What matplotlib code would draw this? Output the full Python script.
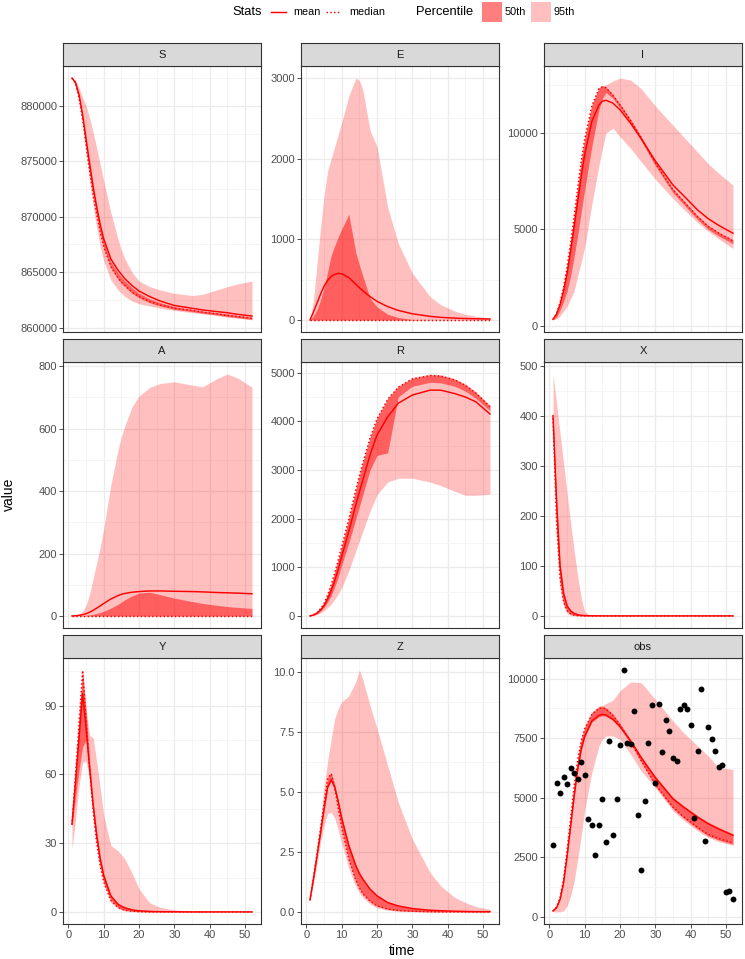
import matplotlib
matplotlib.use('Agg')
import matplotlib.pyplot as plt
from matplotlib.lines import Line2D
from matplotlib.patches import Rectangle

plt.rcParams['font.family'] = ['Liberation Sans', 'DejaVu Sans']

# time points
time = [1, 2, 3, 4, 5, 6, 7, 8, 9, 10, 12, 14, 15, 16, 18, 20, 23, 26, 30, 35, 38, 42, 45, 48, 52]

S_mean = [882500, 882100, 881000, 879200, 877000, 874800, 872700, 870900, 869300, 868000, 866200, 865200, 864800,
          864400, 863800, 863300, 862800, 862400, 862000, 861750, 861600, 861450, 861350, 861200, 861050]
S_median = [882500, 882000, 880700, 878800, 876400, 874100, 872000, 870200, 868600, 867300, 865500, 864500, 864100,
            863800, 863200, 862800, 862350, 862050, 861750, 861550, 861400, 861250, 861100, 861000, 860850]
S_lo50 = [882500, 881900, 880600, 878700, 876300, 874000, 871900, 870100, 868500, 867200, 865400, 864400, 864000,
          863700, 863100, 862700, 862250, 861950, 861650, 861450, 861300, 861150, 861000, 860900, 860750]
S_hi50 = [882500, 882050, 880900, 879050, 876800, 874550, 872450, 870650, 869050, 867750, 865950, 864950, 864550,
          864200, 863600, 863100, 862600, 862250, 861900, 861650, 861500, 861350, 861250, 861100, 860950]
S_lo95 = [882500, 881900, 880500, 878400, 875800, 873200, 871000, 869000, 867300, 866000, 864300, 863400, 863100,
          862800, 862400, 862150, 861950, 861750, 861550, 861350, 861250, 861100, 860950, 860850, 860700]
S_hi95 = [882500, 882300, 881600, 880800, 880000, 878900, 877600, 876200, 874700, 873200, 870400, 868000, 867000,
          866200, 865000, 864200, 863700, 863400, 863100, 862900, 863000, 863400, 863700, 863950, 864200]

E_mean = [0, 100, 210, 320, 420, 490, 540, 565, 578, 572, 525, 440, 400, 360, 290, 230, 165, 118, 76, 44, 32, 22, 17, 14, 12]
E_median = [0, 0, 0, 0, 0, 0, 0, 0, 0, 0, 0, 0, 0, 0, 0, 0, 0, 0, 0, 0, 0, 0, 0, 0, 0]
E_lo50 = [0, 0, 0, 0, 0, 0, 0, 0, 0, 0, 0, 0, 0, 0, 0, 0, 0, 0, 0, 0, 0, 0, 0, 0, 0]
E_hi50 = [0, 50, 130, 250, 400, 600, 800, 920, 1030, 1130, 1310, 830, 680, 540, 270, 160, 70, 30, 5, 0, 0, 0, 0, 0, 0]
E_lo95 = [0, 0, 0, 0, 0, 0, 0, 0, 0, 0, 0, 0, 0, 0, 0, 0, 0, 0, 0, 0, 0, 0, 0, 0, 0]
E_hi95 = [0, 250, 700, 1150, 1550, 1850, 2000, 2150, 2300, 2450, 2780, 3000, 2970, 2850, 2350, 2150, 1400, 950, 580,
          290, 190, 110, 70, 45, 20]

I_mean = [330, 600, 1100, 1800, 2700, 3900, 5150, 6450, 7750, 8900, 10600, 11450, 11650, 11700, 11550, 11200, 10500,
          9700, 8550, 7300, 6750, 6000, 5550, 5200, 4800]
I_median = [330, 620, 1200, 2000, 3050, 4300, 5700, 7150, 8550, 9700, 11400, 12300, 12400, 12350, 11950, 11450, 10650,
            9750, 8450, 7050, 6450, 5650, 5150, 4800, 4400]
I_lo50 = [300, 450, 800, 1250, 1800, 2600, 3600, 4700, 5900, 7100, 9300, 11200, 11800, 12100, 11800, 11300, 10500,
          9600, 8300, 6900, 6300, 5500, 5000, 4650, 4250]
I_hi50 = [340, 640, 1230, 2050, 3100, 4350, 5750, 7200, 8600, 9750, 11450, 12350, 12450, 12400, 12000, 11500, 10700,
          9800, 8500, 7100, 6500, 5700, 5200, 4850, 4450]
I_lo95 = [300, 350, 500, 750, 1000, 1400, 1800, 2600, 3300, 4100, 6300, 8300, 9200, 10000, 10250, 9800, 9200, 8500,
          7600, 6600, 6050, 5350, 4900, 4500, 4000]
I_hi95 = [340, 650, 1250, 2100, 3150, 4400, 5800, 7250, 8650, 9750, 11450, 12350, 12450, 12500, 12700, 12850, 12750,
          12300, 11400, 10400, 9800, 9000, 8400, 7900, 7300]

A_mean = [0, 0.5, 2, 4, 7, 12, 18, 25, 32, 40, 54, 65, 69, 72, 76, 78, 80, 80, 79, 78, 77, 75, 74, 73, 71]
A_median = [0, 0, 0, 0, 0, 0, 0, 0, 0, 0, 0, 0, 0, 0, 0, 0, 0, 0, 0, 0, 0, 0, 0, 0, 0]
A_lo50 = [0, 0, 0, 0, 0, 0, 0, 0, 0, 0, 0, 0, 0, 0, 0, 0, 0, 0, 0, 0, 0, 0, 0, 0, 0]
A_hi50 = [0, 0, 0.5, 1, 2, 3, 5, 8, 11, 15, 25, 37, 44, 52, 64, 73, 76, 68, 57, 46, 40, 34, 30, 27, 24]
A_lo95 = [0, 0, 0, 0, 0, 0, 0, 0, 0, 0, 0, 0, 0, 0, 0, 0, 0, 0, 0, 0, 0, 0, 0, 0, 0]
A_hi95 = [0, 0, 5, 15, 35, 70, 120, 170, 220, 280, 420, 530, 575, 610, 670, 705, 732, 745, 750, 740, 734, 760, 775,
          762, 733]

R_mean = [0, 20, 55, 120, 210, 350, 520, 720, 960, 1230, 1740, 2290, 2550, 2800, 3310, 3720, 4090, 4370, 4540, 4640,
          4640, 4570, 4500, 4400, 4150]
R_median = [0, 25, 70, 150, 260, 430, 640, 880, 1150, 1430, 1990, 2600, 2880, 3150, 3650, 4050, 4450, 4700, 4870, 4940,
            4930, 4850, 4740, 4580, 4300]
R_lo50 = [0, 15, 45, 100, 180, 290, 420, 600, 800, 1050, 1500, 2000, 2250, 2500, 3000, 3300, 3350, 4500, 4720, 4800,
          4790, 4720, 4620, 4470, 4220]
R_hi50 = [0, 30, 80, 160, 270, 440, 650, 890, 1160, 1440, 2000, 2610, 2890, 3160, 3660, 4060, 4460, 4710, 4880, 4950,
          4940, 4860, 4750, 4590, 4310]
R_lo95 = [0, 8, 25, 60, 110, 170, 245, 340, 450, 585, 925, 1335, 1540, 1745, 2150, 2490, 2750, 2830, 2830, 2750, 2680,
          2560, 2480, 2480, 2500]
R_hi95 = [0, 40, 95, 180, 290, 460, 670, 910, 1180, 1460, 2020, 2630, 2910, 3180, 3680, 4080, 4480, 4730, 4900, 4970,
          4960, 4880, 4770, 4610, 4330]

X_mean = [400, 230, 100, 45, 20, 10, 5, 2.5, 1.2, 0.6, 0.2, 0.1, 0, 0, 0, 0, 0, 0, 0, 0, 0, 0, 0, 0, 0]
X_median = [395, 190, 75, 28, 10, 4, 1.5, 0.5, 0.2, 0.1, 0, 0, 0, 0, 0, 0, 0, 0, 0, 0, 0, 0, 0, 0, 0]
X_lo50 = [390, 180, 70, 25, 9, 3.5, 1.2, 0.4, 0.1, 0, 0, 0, 0, 0, 0, 0, 0, 0, 0, 0, 0, 0, 0, 0, 0]
X_hi50 = [402, 235, 102, 47, 22, 11, 5.5, 2.7, 1.3, 0.7, 0.2, 0.1, 0, 0, 0, 0, 0, 0, 0, 0, 0, 0, 0, 0, 0]
X_lo95 = [380, 160, 55, 18, 5, 1, 0.3, 0.1, 0, 0, 0, 0, 0, 0, 0, 0, 0, 0, 0, 0, 0, 0, 0, 0, 0]
X_hi95 = [483, 425, 365, 305, 245, 185, 130, 80, 35, 8, 0.5, 0.1, 0, 0, 0, 0, 0, 0, 0, 0, 0, 0, 0, 0, 0]

Y_mean = [38.4, 57, 76, 95.4, 80, 62.5, 46.5, 33.3, 23, 15.8, 7, 3.4, 2.5, 1.8, 0.9, 0.5, 0.2, 0.1, 0.05, 0, 0, 0, 0, 0, 0]
Y_median = [38, 60, 82, 105.3, 83, 62, 44, 30, 20, 13, 5, 2, 1.2, 0.7, 0.3, 0.1, 0, 0, 0, 0, 0, 0, 0, 0, 0]
Y_lo50 = [37, 50, 62, 72, 75, 60, 44, 30, 20, 13, 5, 2, 1.2, 0.7, 0.3, 0.1, 0, 0, 0, 0, 0, 0, 0, 0, 0]
Y_hi50 = [40, 62, 85, 105.5, 88, 66, 48, 35, 24, 16.5, 7.3, 3.6, 2.6, 1.9, 1, 0.5, 0.2, 0.1, 0.05, 0, 0, 0, 0, 0, 0]
Y_lo95 = [27.5, 40, 55, 65, 66, 58, 42, 29, 19, 12, 4, 1.5, 1, 0.5, 0.2, 0, 0, 0, 0, 0, 0, 0, 0, 0, 0]
Y_hi95 = [40, 62, 86, 105.5, 88, 77, 76, 65.5, 54, 42, 29, 26.7, 25, 23, 17, 10, 4, 2, 0.9, 0.3, 0.15, 0.05, 0, 0, 0]

Z_mean = [0.5, 1.4, 2.35, 3.3, 4.3, 5.2, 5.5, 5.2, 4.6, 3.9, 2.76, 1.92, 1.6, 1.36, 0.95, 0.67, 0.39, 0.25, 0.14, 0.07,
          0.05, 0.03, 0.02, 0.01, 0.01]
Z_median = [0.5, 1.45, 2.45, 3.5, 4.55, 5.55, 5.75, 5.2, 4.3, 3.5, 2.2, 1.3, 1.0, 0.75, 0.45, 0.25, 0.12, 0.06, 0.03,
            0.01, 0, 0, 0, 0, 0]
Z_lo50 = [0.48, 1.35, 2.3, 3.25, 4.25, 5.15, 5.45, 5.1, 4.25, 3.45, 2.15, 1.25, 0.97, 0.72, 0.43, 0.24, 0.11, 0.05,
          0.02, 0, 0, 0, 0, 0, 0]
Z_hi50 = [0.52, 1.5, 2.5, 3.55, 4.6, 5.6, 5.8, 5.3, 4.65, 3.95, 2.8, 1.95, 1.63, 1.38, 0.97, 0.69, 0.4, 0.26, 0.15,
          0.08, 0.05, 0.03, 0.02, 0.01, 0.01]
Z_lo95 = [0.45, 1.2, 2.0, 2.9, 3.6, 4.1, 4.15, 3.9, 3.4, 2.85, 1.8, 1.05, 0.8, 0.6, 0.33, 0.17, 0.07, 0.03, 0.01, 0, 0,
          0, 0, 0, 0]
Z_hi95 = [0.55, 1.55, 2.6, 3.8, 5.2, 6.3, 7.2, 8.05, 8.47, 8.75, 9.0, 9.6, 10.07, 9.65, 8.6, 7.63, 6.1, 4.57, 3.04,
          1.64, 1.09, 0.6, 0.39, 0.22, 0.11]

obs_mean = [240, 380, 730, 1430, 2550, 3810, 5070, 6190, 7030, 7590, 8220, 8460, 8500, 8470, 8290, 7980, 7380, 6680,
            5840, 4950, 4600, 4180, 3900, 3680, 3420]
obs_median = [240, 400, 800, 1600, 2800, 4150, 5500, 6600, 7400, 7900, 8500, 8750, 8770, 8720, 8450, 8050, 7350, 6550,
              5550, 4600, 4200, 3750, 3450, 3280, 3100]
obs_lo50 = [230, 370, 710, 1400, 2500, 3760, 5020, 6140, 6980, 7540, 8170, 8400, 8440, 8420, 8240, 7930, 7290, 6490,
            5490, 4540, 4140, 3690, 3390, 3220, 3040]
obs_hi50 = [250, 420, 840, 1650, 2850, 4200, 5550, 6650, 7450, 7950, 8560, 8810, 8830, 8780, 8510, 8110, 7440, 6740,
            5900, 5010, 4660, 4240, 3960, 3740, 3480]
obs_lo95 = [200, 200, 200, 240, 450, 870, 1500, 2410, 3390, 4510, 6050, 7170, 7450, 7590, 7590, 7450, 6820, 6120, 5420,
            4450, 4050, 3600, 3330, 3150, 3000]
obs_hi95 = [250, 420, 850, 1700, 2900, 4300, 5650, 6750, 7500, 8000, 8600, 8850, 8880, 8950, 9100, 9500, 9860, 9830,
            9130, 8220, 7730, 7170, 6750, 6260, 6190]

# observed data points
obs_time = list(range(1, 53))
obs_value = [3000, 5600, 5210, 5880, 5570, 6250, 6050, 5800, 6500, 5940, 4090, 3840, 2600, 3840, 4930, 3140, 7400,
             3420, 4930, 7230, 10360, 7280, 7250, 8630, 4290, 1960, 4850, 7310, 8910, 5600, 8950, 6920, 8260, 7820,
             6670, 6560, 8710, 8880, 8710, 8040, 4150, 6950, 9550, 3190, 7980, 7450, 6980, 6300, 6390, 1040, 1060, 760]

panel_names = ["S", "E", "I", "A", "R", "X", "Y", "Z", "obs"]
panel_series = [
    (S_mean, S_median, S_lo50, S_hi50, S_lo95, S_hi95),
    (E_mean, E_median, E_lo50, E_hi50, E_lo95, E_hi95),
    (I_mean, I_median, I_lo50, I_hi50, I_lo95, I_hi95),
    (A_mean, A_median, A_lo50, A_hi50, A_lo95, A_hi95),
    (R_mean, R_median, R_lo50, R_hi50, R_lo95, R_hi95),
    (X_mean, X_median, X_lo50, X_hi50, X_lo95, X_hi95),
    (Y_mean, Y_median, Y_lo50, Y_hi50, Y_lo95, Y_hi95),
    (Z_mean, Z_median, Z_lo50, Z_hi50, Z_lo95, Z_hi95),
    (obs_mean, obs_median, obs_lo50, obs_hi50, obs_lo95, obs_hi95),
]
panel_ticks = [
    [860000, 865000, 870000, 875000, 880000],
    [0, 1000, 2000, 3000],
    [0, 5000, 10000],
    [0, 200, 400, 600, 800],
    [0, 1000, 2000, 3000, 4000, 5000],
    [0, 100, 200, 300, 400, 500],
    [0, 30, 60, 90],
    [0, 2.5, 5, 7.5, 10],
    [0, 2500, 5000, 7500, 10000],
]
x_ticks = [0, 10, 20, 30, 40, 50]

W, H = 745, 959
fig = plt.figure(figsize=(W / 100, H / 100), dpi=100)


def px_axes(left, top, width, height):
    return fig.add_axes([left / W, 1 - (top + height) / H, width / W, height / H])


def minor_of(major, lo, hi):
    step = major[1] - major[0]
    m = [major[0] - step / 2] + [v + step / 2 for v in major]
    return [v for v in m if lo <= v <= hi]


col_left = [63, 301, 544]
row_top = [66, 362, 658]
pw, ph = 198, 266
strip_h = 23
border = '#333333'
xlo, xhi = 1 - 0.05 * 51, 52 + 0.05 * 51

for i, name in enumerate(panel_names):
    r, c = divmod(i, 3)
    mean, med, lo50, hi50, lo95, hi95 = panel_series[i]
    ax = px_axes(col_left[c], row_top[r], pw, ph)
    ax.fill_between(time, lo95, hi95, color='red', alpha=0.25, lw=0, zorder=2)
    ax.fill_between(time, lo50, hi50, color='red', alpha=0.5, lw=0, zorder=3)
    ax.plot(time, mean, color='red', lw=1.05, zorder=4)
    ax.plot(time, med, color='red', lw=1.05, ls=(0, (1, 1.6)), zorder=4)
    allv = mean + med + lo50 + hi50 + lo95 + hi95
    if name == 'obs':
        ax.scatter(obs_time, obs_value, s=18, color='black', lw=0, zorder=5)
        allv = allv + obs_value
    lo, hi = min(allv), max(allv)
    pad = 0.05 * (hi - lo)
    ylo, yhi = lo - pad, hi + pad
    ax.set_xlim(xlo, xhi)
    ax.set_ylim(ylo, yhi)

    yt = panel_ticks[i]
    ax.set_yticks(yt)
    if name == 'Z':
        ax.set_yticklabels(['%.1f' % v for v in yt])
    else:
        ax.set_yticklabels(['%d' % v for v in yt])
    ax.set_yticks(minor_of(yt, ylo, yhi), minor=True)
    ax.set_xticks(x_ticks)
    ax.set_xticks(minor_of(x_ticks, xlo, xhi), minor=True)

    ax.grid(which='major', color='#EBEBEB', lw=0.9, zorder=0)
    ax.grid(which='minor', color='#F2F2F2', lw=0.5, zorder=0)
    ax.set_axisbelow(True)
    for s in ax.spines.values():
        s.set_color(border)
        s.set_linewidth(0.8)
    ax.tick_params(which='major', length=2.8, width=0.6, color=border, labelsize=8,
                   labelcolor='#4D4D4D', pad=1.5)
    ax.tick_params(which='minor', length=0)
    if r < 2:
        ax.tick_params(axis='x', which='major', length=0, labelbottom=False)

    sax = px_axes(col_left[c], row_top[r] - strip_h, pw, strip_h)
    sax.set_facecolor('#D9D9D9')
    sax.set_xticks([])
    sax.set_yticks([])
    for s in sax.spines.values():
        s.set_color(border)
        s.set_linewidth(0.8)
    sax.text(0.5, 0.5, name, ha='center', va='center', fontsize=8, color='#1A1A1A',
             transform=sax.transAxes)

fig.text(402 / W, 1 - 951 / H, 'time', ha='center', va='center', fontsize=10, color='black')
fig.text(9 / W, 1 - 494 / H, 'value', ha='center', va='center', rotation=90, fontsize=10, color='black')

# legend across the top
ly = 1 - 12 / H
fig.text(232 / W, ly, 'Stats', ha='left', va='center', fontsize=9.3)
fig.add_artist(Line2D([271 / W, 286 / W], [ly, ly], color='red', lw=1.05, transform=fig.transFigure))
fig.text(293 / W, ly, 'mean', ha='left', va='center', fontsize=7.8)
fig.add_artist(Line2D([326 / W, 341 / W], [ly, ly], color='red', lw=1.05, ls=(0, (1, 1.6)),
                      transform=fig.transFigure))
fig.text(349 / W, ly, 'median', ha='left', va='center', fontsize=7.8)
fig.text(416 / W, ly, 'Percentile', ha='left', va='center', fontsize=9.3)
fig.add_artist(Rectangle((482 / W, 1 - 22 / H), 19.5 / W, 20 / H, facecolor='red', alpha=0.5, lw=0,
                         transform=fig.transFigure))
fig.text(505 / W, ly, '50th', ha='left', va='center', fontsize=7.8)
fig.add_artist(Rectangle((531 / W, 1 - 22 / H), 19.5 / W, 20 / H, facecolor='red', alpha=0.25, lw=0,
                         transform=fig.transFigure))
fig.text(554 / W, ly, '95th', ha='left', va='center', fontsize=7.8)

fig.savefig('out.png', dpi=100)
